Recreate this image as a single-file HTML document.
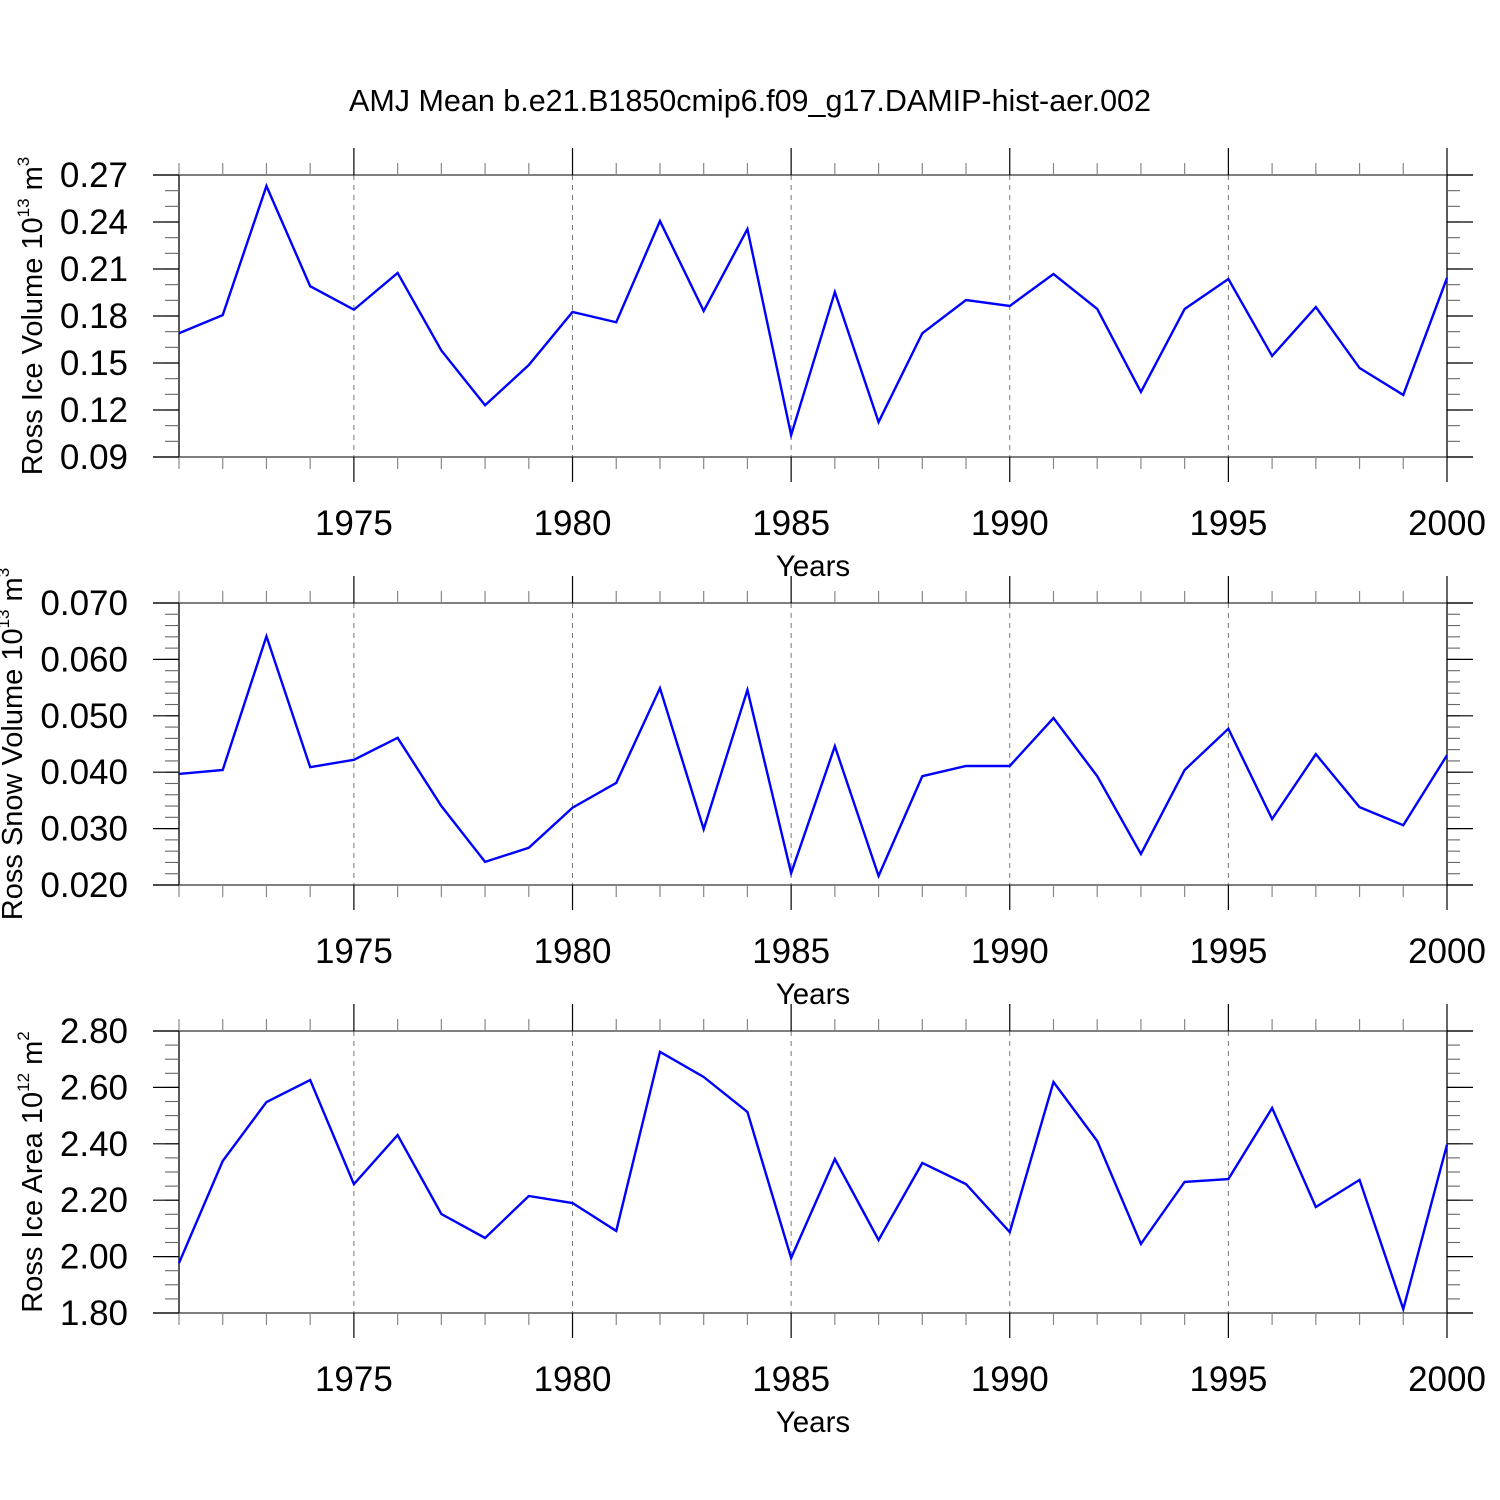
<!DOCTYPE html>
<html><head><meta charset="utf-8"><style>
html,body{margin:0;padding:0;background:#fff}
svg{display:block;font-family:"Liberation Sans",sans-serif}
</style></head><body>
<svg id="chart" width="1500" height="1500" viewBox="0 0 1500 1500" xmlns="http://www.w3.org/2000/svg">
<text x="750" y="111" font-size="30.5" text-anchor="middle">AMJ Mean b.e21.B1850cmip6.f09_g17.DAMIP-hist-aer.002</text>
</svg>
<script>
const years = [1971,1972,1973,1974,1975,1976,1977,1978,1979,1980,1981,1982,1983,1984,1985,1986,1987,1988,1989,1990,1991,1992,1993,1994,1995,1996,1997,1998,1999,2000];
const xTicks = [1975,1980,1985,1990,1995,2000];
const iceVolume = [0.169,0.1806,0.263,0.199,0.184,0.2075,0.158,0.123,0.1487,0.1826,0.176,0.2406,0.1832,0.2355,0.104,0.1953,0.1123,0.169,0.1902,0.1864,0.2068,0.1845,0.1315,0.1845,0.2036,0.1545,0.1857,0.1468,0.1296,0.2043];
const snowVolume = [0.0397,0.0404,0.0641,0.0409,0.0422,0.0461,0.0340,0.0241,0.0266,0.0337,0.0381,0.0549,0.0299,0.0546,0.0221,0.0446,0.0216,0.0393,0.0411,0.0411,0.0496,0.0393,0.0255,0.0404,0.0477,0.0317,0.0432,0.0338,0.0306,0.0430];
const iceArea = [1.977,2.339,2.548,2.626,2.257,2.431,2.151,2.066,2.215,2.190,2.091,2.726,2.637,2.513,1.995,2.346,2.059,2.332,2.257,2.087,2.619,2.410,2.045,2.265,2.275,2.527,2.176,2.272,1.814,2.397];
const iceVolumeTicks = ["0.09","0.12","0.15","0.18","0.21","0.24","0.27"];
const snowVolumeTicks = ["0.020","0.030","0.040","0.050","0.060","0.070"];
const iceAreaTicks = ["1.80","2.00","2.20","2.40","2.60","2.80"];

const NS = "http://www.w3.org/2000/svg";
const svg = document.getElementById('chart');
function el(tag, attrs, parent){const e=document.createElementNS(NS,tag);for(const k in attrs)e.setAttribute(k,attrs[k]);(parent||svg).appendChild(e);return e;}

const X0=179, X1=1447;
function xs(y){return X0+(y-1971)*(X1-X0)/29;}

const panels=[
 {top:175,min:0.09,max:0.27,minor:0.01,data:iceVolume,ticks:iceVolumeTicks,name:"ice-volume",title:"Ross Ice Volume 10",sup:"13",unit:" m",usup:"3",tx:42},
 {top:603,min:0.02,max:0.07,minor:0.002,data:snowVolume,ticks:snowVolumeTicks,name:"snow-volume",title:"Ross Snow Volume 10",sup:"13",unit:" m",usup:"3",tx:22},
 {top:1031,min:1.8,max:2.8,minor:0.05,data:iceArea,ticks:iceAreaTicks,name:"ice-area",title:"Ross Ice Area 10",sup:"12",unit:" m",usup:"2",tx:42}
];
panels.forEach(p=>{
 const H=282, bot=p.top+H;
 const ys=v=>bot-(v-p.min)/(p.max-p.min)*H;
 const g=el('g',{});
 
 
 xTicks.forEach(t=>{ if(t<2000){const l=el('line',{x1:xs(t),x2:xs(t),y1:p.top,y2:bot,stroke:'#777','stroke-width':1,'stroke-dasharray':'5,5'},g);
   
   }});
 el('line',{x1:X0,x2:X0,y1:p.top,y2:bot,stroke:'#000','stroke-width':1.3},g);
 el('line',{x1:X1,x2:X1,y1:p.top,y2:bot,stroke:'#000','stroke-width':1.3},g);
 el('line',{x1:153,x2:1473,y1:p.top,y2:p.top,stroke:'#333','stroke-width':1.3},g);
 el('line',{x1:153,x2:1473,y1:bot,y2:bot,stroke:'#333','stroke-width':1.3},g);
 years.forEach(y=>{
  const major=y%5===0, x=xs(y);
  el('line',{x1:x,x2:x,y1:p.top,y2:p.top-(major?27:12),stroke:major?'#000':'#888','stroke-width':1.2},g);
  el('line',{x1:x,x2:x,y1:bot,y2:bot+(major?25:12),stroke:major?'#000':'#888','stroke-width':1.2},g);
 });
 xTicks.forEach(t=>{const tx=el('text',{x:xs(t),y:bot+78,'font-size':35,'text-anchor':'middle'},g);tx.textContent=t;
   
   });
 const xt=el('text',{x:813,y:bot+119,'font-size':29.5,'text-anchor':'middle'},g);xt.textContent='Years';
 
 
 const n=Math.round((p.max-p.min)/p.minor);
 for(let i=1;i<n;i++){const v=p.min+i*p.minor,y=ys(v);
  el('line',{x1:165,x2:X0,y1:y,y2:y,stroke:'#666','stroke-width':1.1},g);
  el('line',{x1:X1,x2:1460,y1:y,y2:y,stroke:'#666','stroke-width':1.1},g);}
 p.ticks.forEach(t=>{const y=ys(parseFloat(t));
  el('line',{x1:153,x2:X0,y1:y,y2:y,stroke:'#000','stroke-width':1.2},g);
  el('line',{x1:X1,x2:1473,y1:y,y2:y,stroke:'#000','stroke-width':1.2},g);
  const tx=el('text',{x:128,y:y+12,'font-size':35,'text-anchor':'end'},g);tx.textContent=t;
  
  });
 const cy=p.top+H/2;
 const yt=el('text',{x:0,y:0,'font-size':29,'text-anchor':'middle',transform:`translate(${p.tx},${cy}) rotate(-90)`},g);
 
 
 yt.appendChild(document.createTextNode(p.title));
 const s1=el('tspan',{'font-size':17,dy:-13},yt);s1.textContent=p.sup;
 const s2=el('tspan',{dy:13},yt);s2.textContent=p.unit;
 const s3=el('tspan',{'font-size':17,dy:-13},yt);s3.textContent=p.usup;
 const pts=p.data.map((v,i)=>xs(years[i])+','+ys(v)).join(' ');
 const line=el('polyline',{points:pts,fill:'none',stroke:'#0000ff','stroke-width':2.4,'stroke-linejoin':'miter'},g);
 
 
});
</script>
</body></html>
